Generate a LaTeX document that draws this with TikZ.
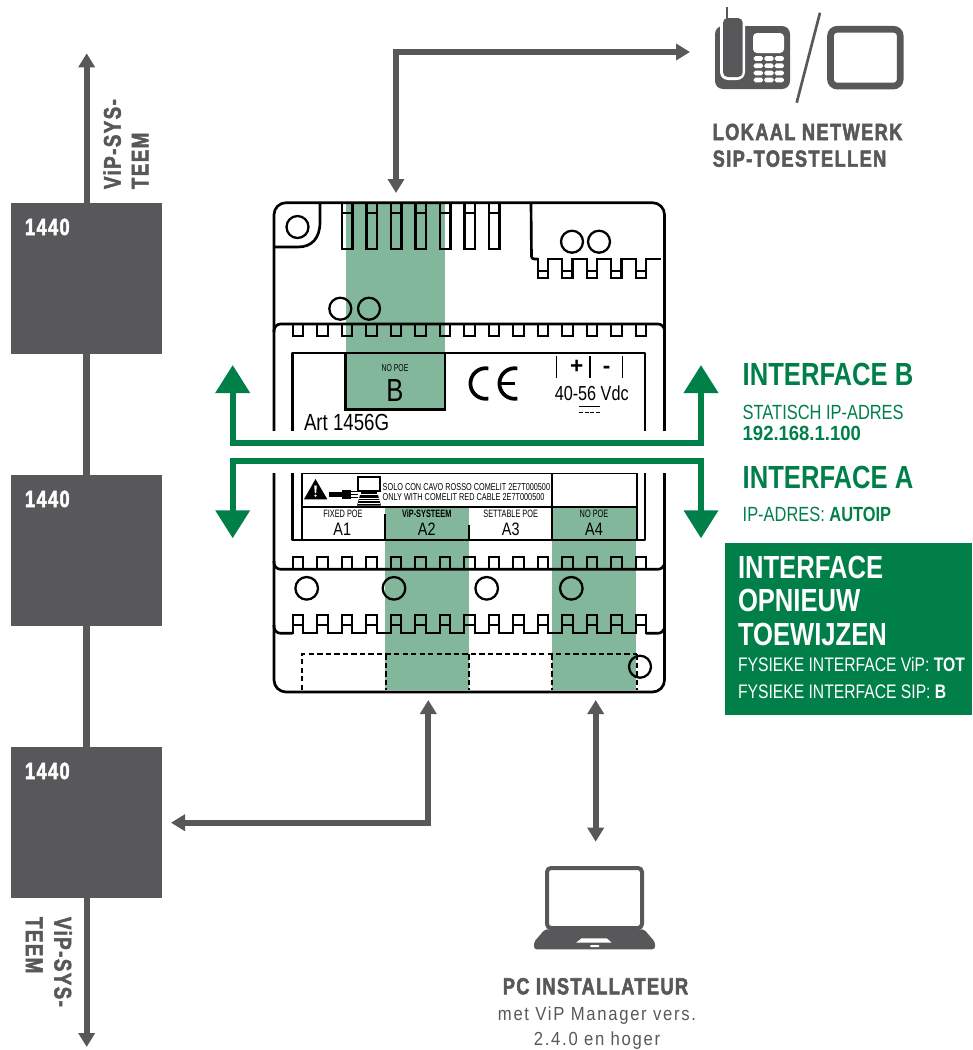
\documentclass[tikz,border=0pt]{standalone}
\usepackage{fontspec}
\usetikzlibrary{arrows.meta}
\setmainfont{Liberation Sans}
\newfontfamily\cond{Liberation Sans}[FakeStretch=.8]
\newfontfamily\nar{Liberation Sans}[FakeStretch=.69]
\newfontfamily\narb{Liberation Sans}[FakeStretch=.73]
\newfontfamily\wid{Liberation Sans}[FakeStretch=.9]
\newfontfamily\heavy{Liberation Sans}[FakeStretch=.78,LetterSpace=6,BoldFeatures={FakeBold=2.2}]
\newfontfamily\sparse{Liberation Sans}[FakeStretch=.88,LetterSpace=9]
\definecolor{gry}{HTML}{58585A}
\definecolor{grn}{HTML}{007F49}
\definecolor{lgrn}{HTML}{82B79B}
\tikzset{
  txt/.style={inner sep=0pt,outer sep=0pt,anchor=base west},
  ctxt/.style={inner sep=0pt,outer sep=0pt,anchor=base},
  block/.style={fill=gry,inner sep=0pt,minimum width=113.25pt,minimum height=113.25pt},
  gconn/.style={draw=gry,line width=4.5pt,-{Triangle[width=12pt,length=10.5pt]}},
  gdouble/.style={draw=gry,line width=4.5pt,{Triangle[width=12pt,length=10.5pt]}-{Triangle[width=12pt,length=10.5pt]}},
  gline/.style={draw=gry,line width=5.5pt},
  garrow/.style={draw=grn,line width=4.5pt,miter limit=10,-{Triangle[width=25pt,length=21pt]}},
  dev/.style={draw=black,line width=2pt,line join=round},
  thin/.style={draw=black,line width=1.7pt,line cap=rect},
  dashl/.style={draw=black,line width=1.3pt,dash pattern=on 4pt off 2.4pt},
}
\begin{document}
\begin{tikzpicture}[x=0.75pt,y=-0.75pt]
\useasboundingbox (0,0) rectangle (972,1050);
% green columns
\fill[lgrn] (346,203) rectangle (445,409);
\fill[lgrn] (385,507) rectangle (469,690);
\fill[lgrn] (552.3,507) rectangle (636,690);
% device outline
\draw[dev,rounded corners=9pt] (274,440) -- (274,202.7) -- (664.5,202.7) -- (664.5,692) -- (274,692) -- cycle;
% top-left corner block
\draw[dev] (320,203) -- (320,222) .. controls (320,238) and (312,247) .. (298,247) -- (275,247);
\draw[thin] (297.5,227) circle (11);
% top slots
\foreach \i in {0,...,6}{
  \draw[thin] ({342+24.5*\i},203) rectangle ++(10.5,46);
  \draw[thin] ({342+24.5*\i},213) -- ++(10.5,0);
}
% top-right teeth
\draw[dev,rounded corners=2pt] (531,203) -- (531.5,259) -- (537.7,259);
\foreach \i in {0,...,4}{
  \draw[thin] ({537.7+24.5*\i},259) -- ++(0,19) -- ++(10.2,0) -- ++(0,-19);
  \draw[thin] ({537.7+24.5*\i},270.7) -- ++(10.2,0);
  \draw[thin] ({547.9+24.5*\i},259) -- ++(14.3,0);
}
\draw[thin] (572,241.7) circle (11);
\draw[thin] (599,241.7) circle (11);
\draw[thin] (340.3,308.7) circle (11);
\draw[thin] (369,308.7) circle (11);
% upper rail
\draw[dev,rounded corners=5pt] (274,332) -- (274,324) -- (664.5,324) -- (664.5,332);
\foreach \i in {0,...,14}{ \draw[thin] ({292.7+24.5*\i},324) rectangle ++(10.5,12); }
% label plate
\draw[dev] (292.7,440) -- (292.7,353) -- (645,353) -- (645,440);
\draw[dev] (292.7,465) -- (292.7,540) -- (645,540) -- (645,465);
\draw[thin] (345.5,353) -- (345.5,409.5) -- (444.7,409.5) -- (444.7,353);
% terminal marks
\draw[draw=black,line width=1.1pt] (556.7,356) -- (556.7,378) (590,356) -- (590,378) (622.7,356) -- (622.7,378);
\draw[draw=black,line width=1.1pt] (579,406.7) -- (600,406.7);
\draw[draw=black,line width=1.1pt,dash pattern=on 3pt off 1.2pt] (579,412.3) -- (600,412.3);
% CE
\draw[draw=black,line width=2.8pt] (485.7,383.5) ++(80:15.3) arc[start angle=80,delta angle=200,radius=15.3];
\draw[draw=black,line width=2.8pt] (514.7,383.5) ++(80:15.3) arc[start angle=80,delta angle=200,radius=15.3];
\draw[draw=black,line width=2.4pt] (499.5,383.5) -- (515,383.5);
% lower table
\draw[thin] (301.7,473.3) rectangle (636.7,507);
\draw[thin] (552.3,473.3) -- (552.3,507);
\draw[thin] (301.7,507) -- (301.7,538.3);
\draw[thin] (385,515) -- (385,538.3);
\draw[thin] (469,526) -- (469,538.3);
\draw[thin] (552.3,507) -- (552.3,538.3);
\draw[thin] (636.7,507) -- (636.7,538.3);
% warning icon
\fill[black] (315.5,479) -- (327.3,499.3) -- (304,499.3) -- cycle;
\fill[white] (314.2,485.5) -- (316.8,485.5) -- (316.2,493) -- (314.8,493) -- cycle;
\fill[white] (315.5,495.6) circle (1.3);
\fill[black] (329,491.8) rectangle (341.7,497.3);
\fill[black] (341.7,489.5) rectangle (351,499.3);
\draw[draw=black,line width=.5pt] (351,491.5) -- (358,491.5) (351,494.5) -- (358,494.5) (351,497.5) -- (358,497.5);
\draw[draw=black,line width=1.5pt] (358,476.5) rectangle (380,490.5);
\fill[black] (361,490.5) rectangle (377,494);
\fill[black] (360,495) -- (378,495) -- (381,505.7) -- (357,505.7) -- cycle;
\draw[draw=white,line width=.4pt] (359,498) -- (379,498) (358.5,500.5) -- (379.5,500.5) (358,503) -- (380,503);
% lower rail
\draw[dev,rounded corners=5pt] (274,561) -- (274,569.3) -- (664.5,569.3) -- (664.5,561);
\foreach \i in {0,...,14}{ \draw[thin] ({292.7+24.5*\i},557.3) rectangle ++(10.5,12); }
\foreach \c in {306.7,394,486.7,571.3}{ \draw[thin] (\c,588.3) circle (11.3); }
% bottom teeth
\draw[dev,rounded corners=5pt] (274,625) -- (274,633.3) -- (292.7,633.3);
\draw[dev,rounded corners=5pt] (646,633.3) -- (664.5,633.3) -- (664.5,625);
\foreach \i in {0,...,14}{
  \draw[thin] ({292.7+24.5*\i},633.3) -- ++(0,-18.3) -- ++(10.5,0) -- ++(0,18.3);
  \draw[thin] ({292.7+24.5*\i},625) -- ++(10.5,0);
}
\foreach \i in {0,...,13}{ \draw[thin] ({303.2+24.5*\i},633.3) -- ++(14,0); }
% dashed plate
\draw[dashl] (301.7,690) -- (301.7,654.3) -- (636.7,654.3);
\foreach \x in {385.7,469,552.3,636.7}{ \draw[dashl] (\x,654.3) -- (\x,690); }
\draw[thin] (640,666.7) circle (11);
% cut-out behind interface bars
\fill[white] (268,431) rectangle (670,473);
% device texts
\node[txt,font=\cond\fontsize{17.5}{18}\selectfont] (art) at (304,430) {Art 1456G};
\node[ctxt,font=\nar\fontsize{7.5}{9}\selectfont] (nopoeb) at (395,371) {NO POE};
\node[ctxt,font=\cond\fontsize{24}{26}\selectfont] (ifb) at (395,401.7) {B};
\node[ctxt,font=\bfseries\fontsize{17}{16}\selectfont] (plus) at (576.7,373) {+};
\node[ctxt,font=\bfseries\fontsize{17}{16}\selectfont] (minus) at (606.7,373) {-};
\node[ctxt,font=\cond\fontsize{15.2}{16}\selectfont] (volt) at (591.7,400) {40-56 Vdc};
\node[txt,font=\narb\fontsize{7.5}{9}\selectfont] (solo) at (382.7,490) {SOLO CON CAVO ROSSO COMELIT 2E7T000500};
\node[txt,font=\narb\fontsize{7.5}{9}\selectfont] (only) at (382.7,500.3) {ONLY WITH COMELIT RED CABLE 2E7T000500};
\node[ctxt,font=\nar\fontsize{8}{9}\selectfont] (fp) at (343,517.7) {FIXED POE};
\node[ctxt,font=\nar\bfseries\fontsize{8}{9}\selectfont] (vs) at (426.7,517.7) {ViP-SYSTEEM};
\node[ctxt,font=\nar\fontsize{8}{9}\selectfont] (sp) at (510.7,517.7) {SETTABLE POE};
\node[ctxt,font=\nar\fontsize{8}{9}\selectfont] (np) at (594,517.7) {NO POE};
\node[ctxt,font=\cond\fontsize{13.5}{14}\selectfont] (a1) at (342.3,535) {A1};
\node[ctxt,font=\cond\fontsize{13.5}{14}\selectfont] (a2) at (426.7,535) {A2};
\node[ctxt,font=\cond\fontsize{13.5}{14}\selectfont] (a3) at (510.7,535) {A3};
\node[ctxt,font=\cond\fontsize{13.5}{14}\selectfont] (a4) at (594,535) {A4};
% green interface arrows
\coordinate (gbl) at (232.7,365);
\coordinate (gbr) at (701,365);
\coordinate (gal) at (232.7,538.3);
\coordinate (gar) at (701,538.3);
\coordinate (gbm) at (466,442.7);
\coordinate (gam) at (466,461.2);
\draw[garrow] (gbm) -| (gbl);
\draw[garrow] (gbm) -| (gbr);
\draw[garrow] (gam) -| (gal);
\draw[garrow] (gam) -| (gar);
% left column
\node[block] (b1) at (86.5,278.5) {};
\node[block] (b2) at (86.5,550.5) {};
\node[block] (b3) at (86.5,822.5) {};
\node[txt,text=white,font=\heavy\bfseries\fontsize{17.5}{18}\selectfont] (l1) at (25,235) {1440};
\node[txt,text=white,font=\heavy\bfseries\fontsize{17.5}{18}\selectfont] (l2) at (25,507) {1440};
\node[txt,text=white,font=\heavy\bfseries\fontsize{17.5}{18}\selectfont] (l3) at (25,779) {1440};
\coordinate (vtop) at (86.7,53.3);
\coordinate (vbot) at (86.7,1047);
\draw[gconn] (b1.north -| vtop) -- (vtop);
\draw[gline] (b1.south -| vtop) -- (b2.north -| vtop);
\draw[gline] (b2.south -| vtop) -- (b3.north -| vtop);
\draw[gconn] (b3.south -| vbot) -- (vbot);
\node[txt,rotate=90,text=gry,font=\heavy\bfseries\fontsize{18}{18}\selectfont] (t1) at (120.7,189) {ViP-SYS-};
\node[txt,rotate=90,text=gry,font=\heavy\bfseries\fontsize{18}{18}\selectfont] (t2) at (148.3,189) {TEEM};
\node[txt,rotate=-90,text=gry,font=\heavy\bfseries\fontsize{18}{18}\selectfont] (t3) at (54.5,917) {ViP-SYS-};
\node[txt,rotate=-90,text=gry,font=\heavy\bfseries\fontsize{18}{18}\selectfont] (t4) at (26,917) {TEEM};
% connectors
\coordinate (lanA) at (396,193);
\coordinate (lanB) at (690,52);
\draw[gdouble] (lanA) |- (lanB);
\coordinate (vipA) at (428.3,700);
\coordinate (vipB) at (171,822.7);
\draw[gdouble] (vipA) |- (vipB);
\coordinate (pcA) at (595.7,700);
\coordinate (pcB) at (595.7,841.7);
\draw[gdouble] (pcA) -- (pcB);
% phone
\fill[gry,rounded corners=6pt] (715,26) rectangle (790,89);
\fill[white,rounded corners=6pt] (720,10) rectangle (745,80);
\fill[gry,rounded corners=3.5pt] (723,18) rectangle (742.7,77);
\draw[draw=gry,line width=1.6pt] (727,7) -- (727,19);
\fill[white,rounded corners=3pt] (753,33) rectangle (784,53);
\foreach \x in {758.3,769,779.3}{ \foreach \y in {58.5,65.8,73,80}{
  \fill[white,rounded corners=1.3pt] (\x-4.6,\y-2.4) rectangle (\x+4.6,\y+2.4);
}}
\draw[draw=gry,line width=2pt] (820,12.7) -- (796.7,102.7);
\draw[draw=gry,line width=5pt,rounded corners=5pt] (830.5,29.3) rectangle (900.2,86);
\node[txt,text=gry,font=\heavy\bfseries\fontsize{17.5}{20}\selectfont] (lan1) at (712.7,140) {LOKAAL NETWERK};
\node[txt,text=gry,font=\heavy\bfseries\fontsize{17.5}{20}\selectfont] (lan2) at (712.7,166.7) {SIP-TOESTELLEN};
% laptop
\draw[draw=gry,line width=3pt,rounded corners=3pt] (547,868) rectangle (642,928);
\fill[gry,rounded corners=2pt] (545,929.3) -- (644,929.3) -- (655,942) -- (655,949.3) -- (534,949.3) -- (534,942) -- cycle;
\fill[white] (581.7,938.3) -- (606.7,938.3) -- (611.7,942.7) -- (576,942.7) -- cycle;
\fill[white,rounded corners=.8pt] (590,945) rectangle (599.5,947.2);
\node[ctxt,text=gry,font=\heavy\bfseries\fontsize{17.5}{20}\selectfont] (pc1) at (595.5,994.3) {PC INSTALLATEUR};
\node[ctxt,text=gry,font=\sparse\fontsize{14.2}{15}\selectfont] (pc2) at (597,1020) {met ViP Manager vers.};
\node[ctxt,text=gry,font=\sparse\fontsize{14.2}{15}\selectfont] (pc3) at (597,1045) {2.4.0 en hoger};
% right texts
\node[txt,text=grn,font=\cond\bfseries\fontsize{24}{26}\selectfont] (ib) at (742.7,385.7) {INTERFACE B};
\node[txt,text=grn,font=\cond\fontsize{15.4}{17}\selectfont] (st) at (742.7,419) {STATISCH IP-ADRES};
\node[txt,text=grn,font=\wid\bfseries\fontsize{15.4}{17}\selectfont] (ip) at (742.7,440) {192.168.1.100};
\node[txt,text=grn,font=\cond\bfseries\fontsize{24}{26}\selectfont] (ia) at (742.7,488.3) {INTERFACE A};
\node[txt,text=grn,font=\cond\fontsize{15.4}{17}\selectfont] (aut) at (742.7,521.7) {IP-ADRES: \textbf{AUTOIP}};
\fill[grn] (725,543.3) rectangle (972,715);
\node[txt,text=white,font=\cond\bfseries\fontsize{24}{26}\selectfont] (r1) at (738,578.3) {INTERFACE};
\node[txt,text=white,font=\cond\bfseries\fontsize{24}{26}\selectfont] (r2) at (738,611.7) {OPNIEUW};
\node[txt,text=white,font=\cond\bfseries\fontsize{24}{26}\selectfont] (r3) at (738,645) {TOEWIJZEN};
\node[txt,text=white,font=\cond\fontsize{14.7}{16}\selectfont] (r4) at (738,671.7) {FYSIEKE INTERFACE ViP: \textbf{TOT}};
\node[txt,text=white,font=\cond\fontsize{14.7}{16}\selectfont] (r5) at (738,698.3) {FYSIEKE INTERFACE SIP: \textbf{B}};
\end{tikzpicture}
\end{document}
